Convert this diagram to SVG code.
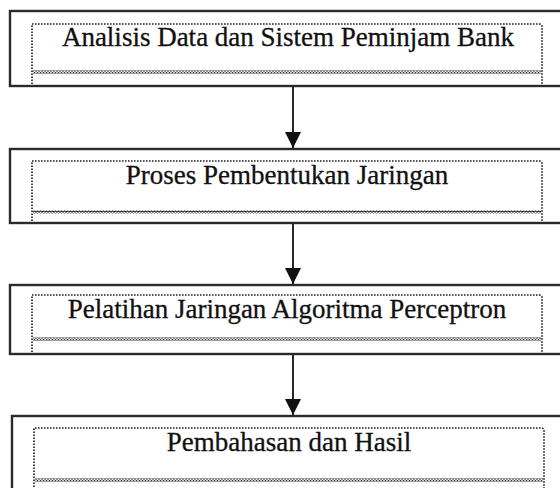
<svg xmlns="http://www.w3.org/2000/svg" width="560" height="488" viewBox="0 0 560 488">
  <style>
    .outer { fill: #ffffff; stroke: #2a2a2a; stroke-width: 2.4; }
    .dots { fill: none; stroke: #222222; stroke-width: 1.7; stroke-dasharray: 1.6 1.4; }
    .label { font-family: "Liberation Serif", "Times New Roman", serif; font-size: 27px; fill: #111111; stroke: #111111; stroke-width: 0.3; text-anchor: middle; }
    .conn { stroke: #111111; stroke-width: 1.8; fill: none; }
  </style>
  <defs>
    <pattern id="wave" x="0" y="0" width="3" height="3" patternUnits="userSpaceOnUse">
      <path d="M0,2.4 L1.5,0.6 L3,2.4" fill="none" stroke="#222222" stroke-width="1.2"/>
    </pattern>
    <marker id="arrow" markerUnits="userSpaceOnUse" markerWidth="16" markerHeight="18" refX="16" refY="8" orient="auto">
      <path d="M0,0 L16,8 L0,16 Z" fill="#111111"/>
    </marker>
  </defs>
  <rect width="560" height="488" fill="#ffffff"/>

  <g id="node1">
    <rect class="outer" x="10" y="11" width="570" height="75"/>
    <path class="dots" d="M32,84 V24 H539 Q542,24 542,27 V84"/>
    <rect x="33" y="70.5" width="508" height="3" fill="url(#wave)"/>
    <text class="label" x="288" y="46">Analisis Data dan Sistem Peminjam Bank</text>
  </g>

  <g id="node2">
    <rect class="outer" x="10" y="149" width="570" height="74"/>
    <path class="dots" d="M32,221 V161 H539 Q542,161 542,164 V221"/>
    <rect x="33" y="210.5" width="508" height="3" fill="url(#wave)"/>
    <text class="label" x="287" y="184">Proses Pembentukan Jaringan</text>
  </g>

  <g id="node3">
    <rect class="outer" x="10" y="285" width="570" height="69"/>
    <path class="dots" d="M32,352 V295 H539 Q542,295 542,298 V352"/>
    <rect x="33" y="337.5" width="508" height="3" fill="url(#wave)"/>
    <text class="label" x="287" y="318">Pelatihan Jaringan Algoritma Perceptron</text>
  </g>

  <g id="node4">
    <rect class="outer" x="12" y="416" width="570" height="100"/>
    <path class="dots" d="M34,490 V428 H541 Q544,428 544,431 V490"/>
    <rect x="35" y="478.5" width="508" height="3" fill="url(#wave)"/>
    <text class="label" x="289" y="451">Pembahasan dan Hasil</text>
  </g>

  <g id="connectors">
    <line class="conn" x1="293" y1="87" x2="293" y2="148" marker-end="url(#arrow)"/>
    <line class="conn" x1="293" y1="224" x2="293" y2="284" marker-end="url(#arrow)"/>
    <line class="conn" x1="293" y1="355" x2="293" y2="415" marker-end="url(#arrow)"/>
  </g>
</svg>
